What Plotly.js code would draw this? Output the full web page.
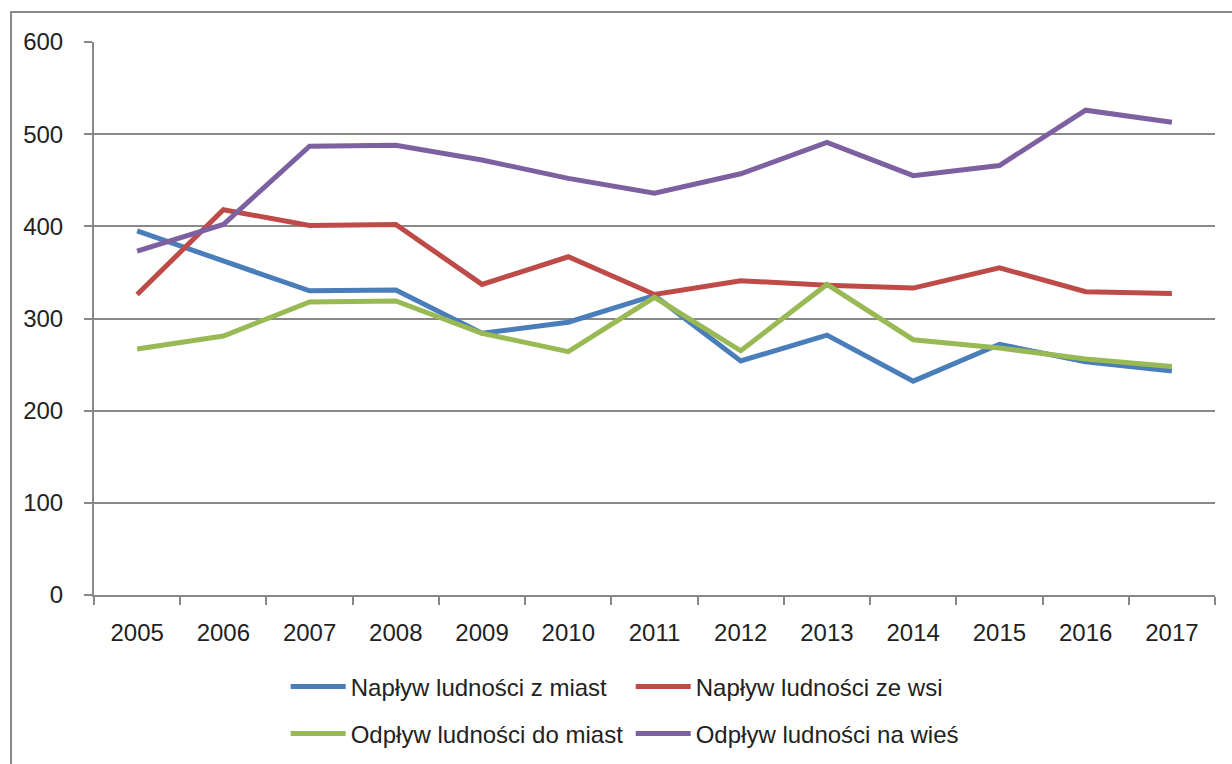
<!DOCTYPE html>
<html>
<head>
<meta charset="utf-8">
<script src="https://cdn.plot.ly/plotly-3.0.1.min.js"></script>
<style>html,body{margin:0;padding:0;background:#fff;}#chart{width:1232px;height:764px;}</style>
</head>
<body>
<div id="chart"></div>
<script>
var years = ["2005","2006","2007","2008","2009","2010","2011","2012","2013","2014","2015","2016","2017"];
var naplywZMiast = [395, 363, 330, 331, 284, 296, 325, 254, 282, 232, 272, 253, 243];
var naplywZeWsi = [326, 418, 401, 402, 337, 367, 326, 341, 336, 333, 355, 329, 327];
var odplywDoMiast = [267, 281, 318, 319, 284, 264, 323, 265, 337, 277, 268, 256, 248];
var odplywNaWies = [373, 402, 487, 488, 472, 452, 436, 457, 491, 455, 466, 526, 513];
var seriesNames = ["Napływ ludności z miast", "Napływ ludności ze wsi", "Odpływ ludności do miast", "Odpływ ludności na wieś"];
var yTicks = [0, 100, 200, 300, 400, 500, 600];

var colors = ["#4A7EBB", "#BE4B48", "#98B954", "#7D60A0"];
var font = "Liberation Sans, Arial, sans-serif";

function tr(y, i, leg) {
  return {x: years, y: y, name: seriesNames[i], type: "scatter", mode: "lines",
    line: {color: colors[i], width: 5}, legend: leg};
}
var data = [
  tr(naplywZMiast, 0, "legend"),
  tr(naplywZeWsi, 1, "legend"),
  tr(odplywDoMiast, 2, "legend2"),
  tr(odplywNaWies, 3, "legend2")
];
var legCommon = {orientation: "h", entrywidth: 275, entrywidthmode: "pixels", itemwidth: 55,
  font: {family: font, size: 24, color: "#222"}, bgcolor: "rgba(0,0,0,0)", xanchor: "left", yanchor: "middle",
  xref: "container", yref: "container", tracegroupgap: 0};
var layout = {
  width: 1232, height: 764,
  margin: {l: 94, r: 17, t: 42, b: 169},
  paper_bgcolor: "#fff", plot_bgcolor: "#fff",
  font: {family: font, size: 24, color: "#222"},
  showlegend: true,
  legend: Object.assign({}, legCommon, {x: 0.2319, y: 0.1008}),
  legend2: Object.assign({}, legCommon, {x: 0.2319, y: 0.0393}),
  xaxis: {type: "category", range: [-0.5, 12.5], tickson: "boundaries", ticks: "outside", ticklen: 8,
    tickcolor: "#888", tickwidth: 2, showline: true, linecolor: "#888", linewidth: 2, showgrid: false,
    tickfont: {family: font, size: 24, color: "#222"}, ticklabelstandoff: 15, automargin: false, fixedrange: true},
  yaxis: {range: [0, 600], tickvals: yTicks, ticks: "outside", ticklen: 8, tickcolor: "#888", tickwidth: 2,
    showline: true, linecolor: "#888", linewidth: 2, showgrid: true, gridcolor: "#888", gridwidth: 2,
    zeroline: false, tickfont: {family: font, size: 24, color: "#222"}, ticklabelstandoff: 16, automargin: false, fixedrange: true},
  shapes: [
    {type: "rect", xref: "paper", yref: "paper", x0: -0.074, x1: 1.5, y0: -1, y1: 1.0543,
     line: {color: "#888", width: 2}, fillcolor: "rgba(0,0,0,0)", layer: "below"}
  ]
};
Plotly.newPlot("chart", data, layout, {displayModeBar: false, staticPlot: true});
</script>
</body>
</html>
